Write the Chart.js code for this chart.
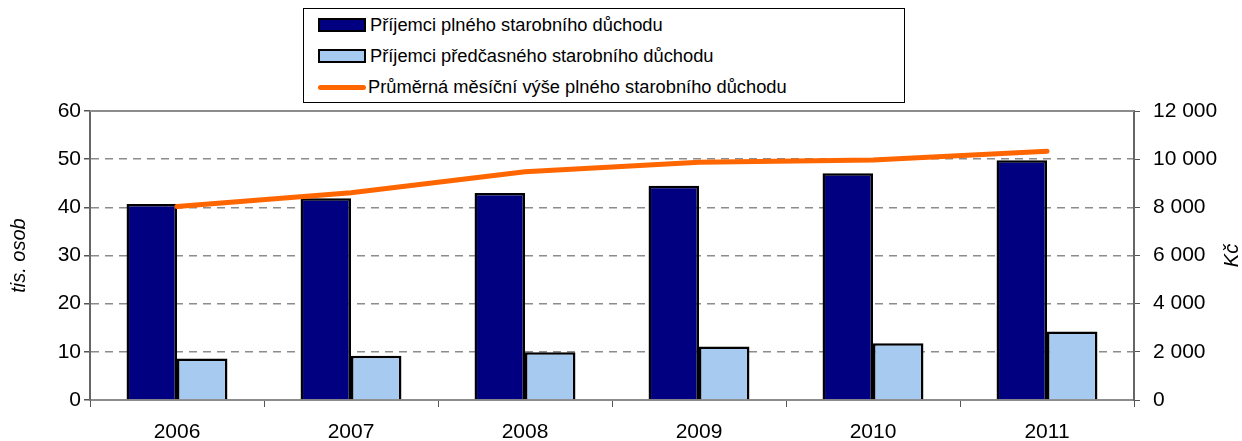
<!DOCTYPE html>
<html lang="cs">
<head>
<meta charset="utf-8">
<title>Příjemci starobního důchodu</title>
<script src="https://cdn.jsdelivr.net/npm/chart.js@4/dist/chart.umd.min.js"></script>
<style>
  html, body { margin: 0; padding: 0; background: #fff; }
  #wrap { position: relative; width: 1242px; height: 441px; }
  #legend {
    position: absolute; left: 303px; top: 8px; width: 600px; height: 93px;
    border: 1px solid #000; background: #fff;
    font-family: "Liberation Sans", Arial, sans-serif; font-size: 18.3px; color: #000;
  }
  .item { position: absolute; left: 14px; height: 24px; display: flex; align-items: center; }
  .sw { width: 44px; height: 10px; border: 2px solid #000; margin-right: 4px; }
  .ln { width: 48px; height: 5px; background: #ff6600; border-radius: 3px; margin-right: 2px; }
</style>
</head>
<body>
<div id="wrap">
  <canvas id="chart" width="1242" height="441"></canvas>
  <div id="legend"></div>
</div>
<script>
// data
const years = ['2006', '2007', '2008', '2009', '2010', '2011'];
const fullRecipients = [40.7, 41.9, 43.0, 44.5, 47.1, 49.8];     // tis. osob
const earlyRecipients = [8.6, 9.2, 9.9, 11.1, 11.8, 14.2];       // tis. osob
const avgPension = [8030, 8610, 9480, 9870, 9965, 10330];        // Kč

const labelFull = 'Příjemci plného starobního důchodu';
const labelEarly = 'Příjemci předčasného starobního důchodu';
const labelAvg = 'Průměrná měsíční výše plného starobního důchodu';
const titleLeft = 'tis. osob';
const titleRight = 'Kč';

const NAVY = '#000080';
const LIGHT = '#a6caf0';
const ORANGE = '#ff6600';
const GRID = '#8c8c8c';
const FONT = '"Liberation Sans", Arial, sans-serif';

// legend (html, boxed like the original)
const legendItems = [
    { text: labelFull, html: '<span class="sw" style="background:' + NAVY + '"></span>' },
    { text: labelEarly, html: '<span class="sw" style="background:' + LIGHT + '"></span>' },
    { text: labelAvg, html: '<span class="ln"></span>' }
];
const legendEl = document.getElementById('legend');
legendItems.forEach(function (it, i) {
    const d = document.createElement('div');
    d.className = 'item';
    d.style.top = (4 + i * 31) + 'px';
    d.innerHTML = it.html + '<span>' + it.text + '</span>';
    legendEl.appendChild(d);
});

// thousands with a space: 12 000
function fmt(v) {
    return String(v).replace(/\B(?=(\d{3})+(?!\d))/g, ' ');
}

// top border of the plot area + both axis titles (both read bottom-up)
const frame = {
    id: 'frame',
    afterDraw(chart) {
        const a = chart.chartArea, c = chart.ctx;
        c.save();
        c.strokeStyle = GRID;
        c.lineWidth = 2;
        c.beginPath();
        c.moveTo(a.left, a.top);
        c.lineTo(a.right, a.top);
        c.stroke();

        c.fillStyle = '#000';
        c.font = 'italic 20px ' + FONT;
        c.textAlign = 'center';
        c.textBaseline = 'middle';
        const midY = (a.top + a.bottom) / 2;
        [[19, titleLeft], [1232, titleRight]].forEach(function (t) {
            c.save();
            c.translate(t[0], midY);
            c.rotate(-Math.PI / 2);
            c.fillText(t[1], 0, 0);
            c.restore();
        });
        c.restore();
    }
};

Chart.defaults.font.family = FONT;
Chart.defaults.font.size = 21;
Chart.defaults.color = '#000';

new Chart(document.getElementById('chart'), {
    type: 'bar',
    data: {
        labels: years,
        datasets: [
            {
                type: 'line', label: labelAvg, data: avgPension, yAxisID: 'y1',
                borderColor: ORANGE, borderWidth: 5, pointRadius: 0, tension: 0,
                borderCapStyle: 'round', order: 0
            },
            {
                label: labelFull, data: fullRecipients, yAxisID: 'y',
                backgroundColor: NAVY, borderColor: '#000', borderWidth: 2.5, order: 1
            },
            {
                label: labelEarly, data: earlyRecipients, yAxisID: 'y',
                backgroundColor: LIGHT, borderColor: '#000', borderWidth: 2.5, order: 1
            }
        ]
    },
    options: {
        responsive: false,
        animation: false,
        categoryPercentage: 0.58,
        barPercentage: 1,
        layout: { padding: { top: 111, left: 0, right: 0, bottom: 0 } },
        plugins: { legend: { display: false }, tooltip: { enabled: false } },
        scales: {
            x: {
                offset: true,
                grid: { offset: true, drawOnChartArea: false, tickLength: 7, tickColor: '#555' },
                border: { color: GRID, width: 2 },
                ticks: { padding: 13 },
                afterFit(s) { s.height = 41; }
            },
            y: {
                position: 'left', min: 0, max: 60,
                ticks: { stepSize: 10, padding: 3 },
                grid: {
                    color: ctx => (ctx.tick && (ctx.tick.value === 0 || ctx.tick.value === 60)) ? 'rgba(0,0,0,0)' : GRID,
                    tickBorderDash: [],
                    tickColor: '#555',
                    tickLength: 6,
                    lineWidth: 1.5
                },
                border: { color: '#666', width: 2, dash: [8, 6] },
                afterFit(s) { s.width = 90; }
            },
            y1: {
                position: 'right', min: 0, max: 12000,
                ticks: { stepSize: 2000, padding: 13, callback: v => fmt(v) },
                grid: { drawOnChartArea: false, tickColor: '#555', tickLength: 6 },
                border: { color: '#666', width: 2 },
                afterFit(s) { s.width = 108; }
            }
        }
    },
    plugins: [frame]
});
</script>
</body>
</html>
